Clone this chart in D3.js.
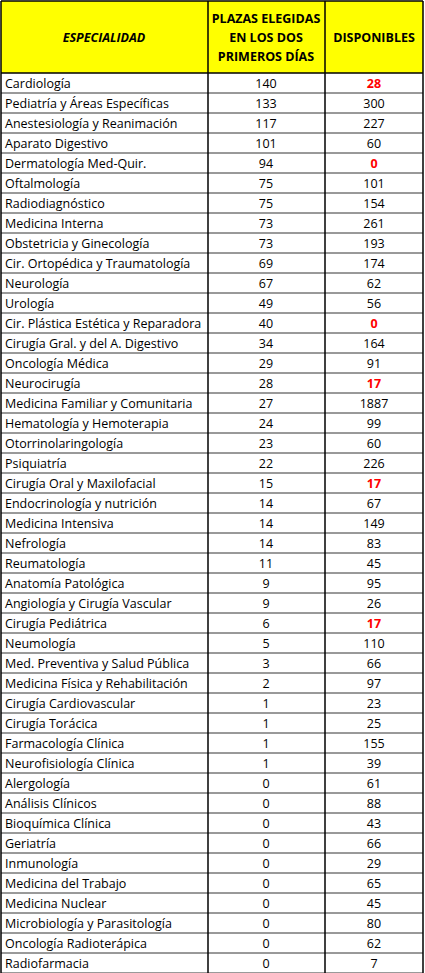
<!DOCTYPE html><html><head><meta charset="utf-8"><script src="https://cdn.jsdelivr.net/npm/d3@7"></script>
<style>body{margin:0;background:#fff}</style></head><body><svg id="c" width="425" height="973"></svg>
<script>
const especialidades=["Cardiología","Pediatría y Áreas Específicas","Anestesiología y Reanimación","Aparato Digestivo","Dermatología Med-Quir.","Oftalmología","Radiodiagnóstico","Medicina Interna","Obstetricia y Ginecología","Cir. Ortopédica y Traumatología","Neurología","Urología","Cir. Plástica Estética y Reparadora","Cirugía Gral. y del A. Digestivo","Oncología Médica","Neurocirugía","Medicina Familiar y Comunitaria","Hematología y Hemoterapia","Otorrinolaringología","Psiquiatría","Cirugía Oral y Maxilofacial","Endocrinología y nutrición","Medicina Intensiva","Nefrología","Reumatología","Anatomía Patológica","Angiología y Cirugía Vascular","Cirugía Pediátrica","Neumología","Med. Preventiva y Salud Pública","Medicina Física y Rehabilitación","Cirugía Cardiovascular","Cirugía Torácica","Farmacología Clínica","Neurofisiología Clínica","Alergología","Análisis Clínicos","Bioquímica Clínica","Geriatría","Inmunología","Medicina del Trabajo","Medicina Nuclear","Microbiología y Parasitología","Oncología Radioterápica","Radiofarmacia"];
const elegidas=[140,133,117,101,94,75,75,73,73,69,67,49,40,34,29,28,27,24,23,22,15,14,14,14,11,9,9,6,5,3,2,1,1,1,1,0,0,0,0,0,0,0,0,0,0];
const disponibles=[28,300,227,60,0,101,154,261,193,174,62,56,0,164,91,17,1887,99,60,226,17,67,149,83,45,95,26,17,110,66,97,23,25,155,39,61,88,43,66,29,65,45,80,62,7];
const destacadas=["Cardiología","Dermatología Med-Quir.","Cir. Plástica Estética y Reparadora","Neurocirugía","Cirugía Oral y Maxilofacial","Cirugía Pediátrica"];
const cabecera2=["PLAZAS ELEGIDAS","EN LOS DOS","PRIMEROS DÍAS"];

const svg=d3.select("#c");
const F="'Open Sans',sans-serif";
const xs=[1,208,325,423];
const y=d3.scaleBand().domain(especialidades).range([73,973]);
svg.append("rect").attr("x",1).attr("y",1).attr("width",422).attr("height",72).attr("fill","#ffff00");
const g=svg.append("g").attr("font-family",F).attr("font-size",12.5);
g.append("text").attr("x",104).attr("y",42).attr("text-anchor","middle").attr("font-weight","bold").attr("font-style","italic").text("ESPECIALIDAD");
cabecera2.forEach((t,i)=>g.append("text").attr("x",266).attr("y",23+i*19).attr("text-anchor","middle").attr("font-weight","bold").text(t));
g.append("text").attr("x",374).attr("y",42).attr("text-anchor","middle").attr("font-weight","bold").text("DISPONIBLES");
const rows=g.selectAll("g.r").data(especialidades).join("g").attr("transform",d=>`translate(0,${y(d)+y.bandwidth()/2+4.5})`);
rows.append("text").attr("x",5).text(d=>d);
rows.append("text").attr("x",266).attr("text-anchor","middle").text((d,i)=>elegidas[i]);
rows.append("text").attr("x",374).attr("text-anchor","middle").text((d,i)=>disponibles[i])
 .attr("fill",d=>destacadas.includes(d)?"#ff0000":"#000").attr("font-weight",d=>destacadas.includes(d)?"bold":"normal");
const lines=svg.append("g").attr("stroke","#000");
lines.selectAll("line.h").data([1,73].concat(especialidades.map(d=>y(d)+y.bandwidth()))).join("line")
 .attr("x1",1).attr("x2",423).attr("y1",d=>d).attr("y2",d=>d).attr("stroke-width",(d,i)=>i<2?1.5:0.8);
lines.selectAll("line.v").data(xs).join("line").attr("x1",d=>d).attr("x2",d=>d).attr("y1",1).attr("y2",973).attr("stroke-width",1.5);
</script></body></html>
